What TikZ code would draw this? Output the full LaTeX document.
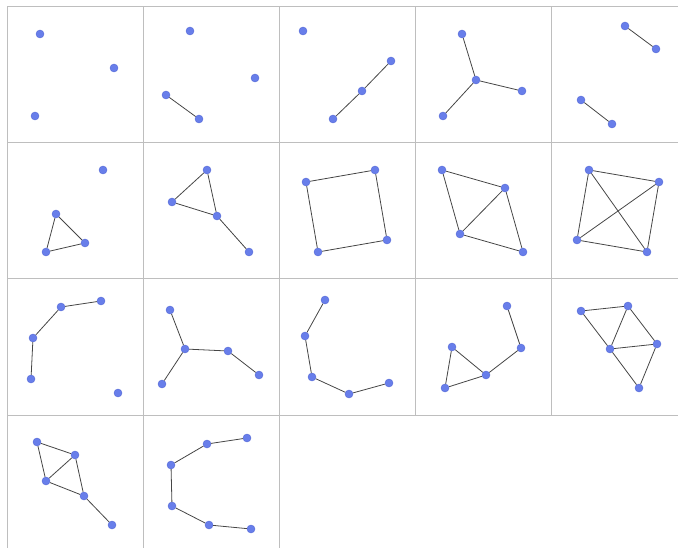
\documentclass[tikz,border=0pt]{standalone}
\usepackage{xcolor}
\usepackage{tikz}
\definecolor{Vertex}{RGB}{104, 126, 234}
\definecolor{VertexDark}{RGB}{84, 104, 214}
\definecolor{Edge}{RGB}{70, 70, 70}
\definecolor{Grid}{RGB}{190, 190, 190}

\begin{document}
\begin{tikzpicture}[
    x=1pt, y=-1pt,
    vertex/.style={circle, draw=VertexDark, fill=Vertex, line width=0.4pt,
                   minimum size=8pt, inner sep=0pt},
    edge/.style={Edge, line width=0.8pt},
    frame/.style={Grid, line width=1pt},
]
\useasboundingbox (0,0) rectangle (678,548);

\draw[frame] (7,7) -- (678,7);
\draw[frame] (7,143) -- (678,143);
\draw[frame] (7,279) -- (678,279);
\draw[frame] (7,415) -- (678,415);
\draw[frame] (7,7) -- (7,548);
\draw[frame] (143,7) -- (143,548);
\draw[frame] (279,7) -- (279,548);
\draw[frame] (415,7) -- (415,415);
\draw[frame] (551,7) -- (551,415);

\node[vertex] (a1) at (40,34) {};
\node[vertex] (a2) at (114,68) {};
\node[vertex] (a3) at (35,116) {};

\node[vertex] (b1) at (190,31) {};
\node[vertex] (b2) at (255,78) {};
\node[vertex] (b3) at (166,95) {};
\node[vertex] (b4) at (199,119) {};

\node[vertex] (c1) at (303,31) {};
\node[vertex] (c2) at (391,61) {};
\node[vertex] (c3) at (362,91) {};
\node[vertex] (c4) at (333,119) {};

\node[vertex] (d1) at (462,34) {};
\node[vertex] (d2) at (476,80) {};
\node[vertex] (d3) at (522,91) {};
\node[vertex] (d4) at (443,116) {};

\node[vertex] (e1) at (625,26) {};
\node[vertex] (e2) at (656,49) {};
\node[vertex] (e3) at (581,100) {};
\node[vertex] (e4) at (612,124) {};

\node[vertex] (f1) at (103,170) {};
\node[vertex] (f2) at (56,214) {};
\node[vertex] (f3) at (85,243) {};
\node[vertex] (f4) at (46,252) {};

\node[vertex] (g1) at (207,170) {};
\node[vertex] (g2) at (172,202) {};
\node[vertex] (g3) at (217,216) {};
\node[vertex] (g4) at (249,252) {};

\node[vertex] (h1) at (306,182) {};
\node[vertex] (h2) at (375,170) {};
\node[vertex] (h3) at (318,252) {};
\node[vertex] (h4) at (387,240) {};

\node[vertex] (i1) at (442,170) {};
\node[vertex] (i2) at (505,188) {};
\node[vertex] (i3) at (460,234) {};
\node[vertex] (i4) at (523,252) {};

\node[vertex] (j1) at (589,170) {};
\node[vertex] (j2) at (659,182) {};
\node[vertex] (j3) at (577,240) {};
\node[vertex] (j4) at (647,252) {};

\node[vertex] (k1) at (101,301) {};
\node[vertex] (k2) at (61,307) {};
\node[vertex] (k3) at (33,338) {};
\node[vertex] (k4) at (31,379) {};
\node[vertex] (k5) at (118,393) {};

\node[vertex] (l1) at (170,310) {};
\node[vertex] (l2) at (185,349) {};
\node[vertex] (l3) at (228,351) {};
\node[vertex] (l4) at (162,384) {};
\node[vertex] (l5) at (259,375) {};

\node[vertex] (m1) at (325,300) {};
\node[vertex] (m2) at (305,336) {};
\node[vertex] (m3) at (312,377) {};
\node[vertex] (m4) at (349,394) {};
\node[vertex] (m5) at (389,383) {};

\node[vertex] (n1) at (507,306) {};
\node[vertex] (n2) at (521,348) {};
\node[vertex] (n3) at (452,347) {};
\node[vertex] (n4) at (486,375) {};
\node[vertex] (n5) at (445,388) {};

\node[vertex] (o1) at (581,311) {};
\node[vertex] (o2) at (628,306) {};
\node[vertex] (o3) at (610,349) {};
\node[vertex] (o4) at (657,344) {};
\node[vertex] (o5) at (639,388) {};

\node[vertex] (p1) at (37,442) {};
\node[vertex] (p2) at (75,455) {};
\node[vertex] (p3) at (46,481) {};
\node[vertex] (p4) at (84,496) {};
\node[vertex] (p5) at (112,525) {};

\node[vertex] (q1) at (247,438) {};
\node[vertex] (q2) at (207,444) {};
\node[vertex] (q3) at (171,465) {};
\node[vertex] (q4) at (172,506) {};
\node[vertex] (q5) at (209,525) {};
\node[vertex] (q6) at (251,529) {};

\draw[edge] (b3) -- (b4);
\draw[edge] (c2) -- (c3) -- (c4);
\draw[edge] (d2) -- (d1);
\draw[edge] (d2) -- (d3);
\draw[edge] (d2) -- (d4);
\draw[edge] (e1) -- (e2);
\draw[edge] (e3) -- (e4);

\draw[edge] (f2) -- (f3) -- (f4) -- (f2);
\draw[edge] (g1) -- (g2) -- (g3) -- (g1);
\draw[edge] (g3) -- (g4);
\draw[edge] (h1) -- (h2) -- (h4) -- (h3) -- (h1);
\draw[edge] (i1) -- (i2) -- (i4) -- (i3) -- (i1);
\draw[edge] (i2) -- (i3);
\draw[edge] (j1) -- (j2) -- (j4) -- (j3) -- (j1);
\draw[edge] (j1) -- (j4);
\draw[edge] (j2) -- (j3);

\draw[edge] (k1) -- (k2) -- (k3) -- (k4);
\draw[edge] (l1) -- (l2) -- (l3) -- (l5);
\draw[edge] (l2) -- (l4);
\draw[edge] (m1) -- (m2) -- (m3) -- (m4) -- (m5);
\draw[edge] (n1) -- (n2) -- (n4) -- (n3) -- (n5) -- (n4);
\draw[edge] (o1) -- (o2) -- (o4) -- (o5) -- (o3) -- (o1);
\draw[edge] (o2) -- (o3) -- (o4);

\draw[edge] (p1) -- (p2) -- (p4) -- (p3) -- (p1);
\draw[edge] (p2) -- (p3);
\draw[edge] (p4) -- (p5);
\draw[edge] (q1) -- (q2) -- (q3) -- (q4) -- (q5) -- (q6);
\end{tikzpicture}
\end{document}
